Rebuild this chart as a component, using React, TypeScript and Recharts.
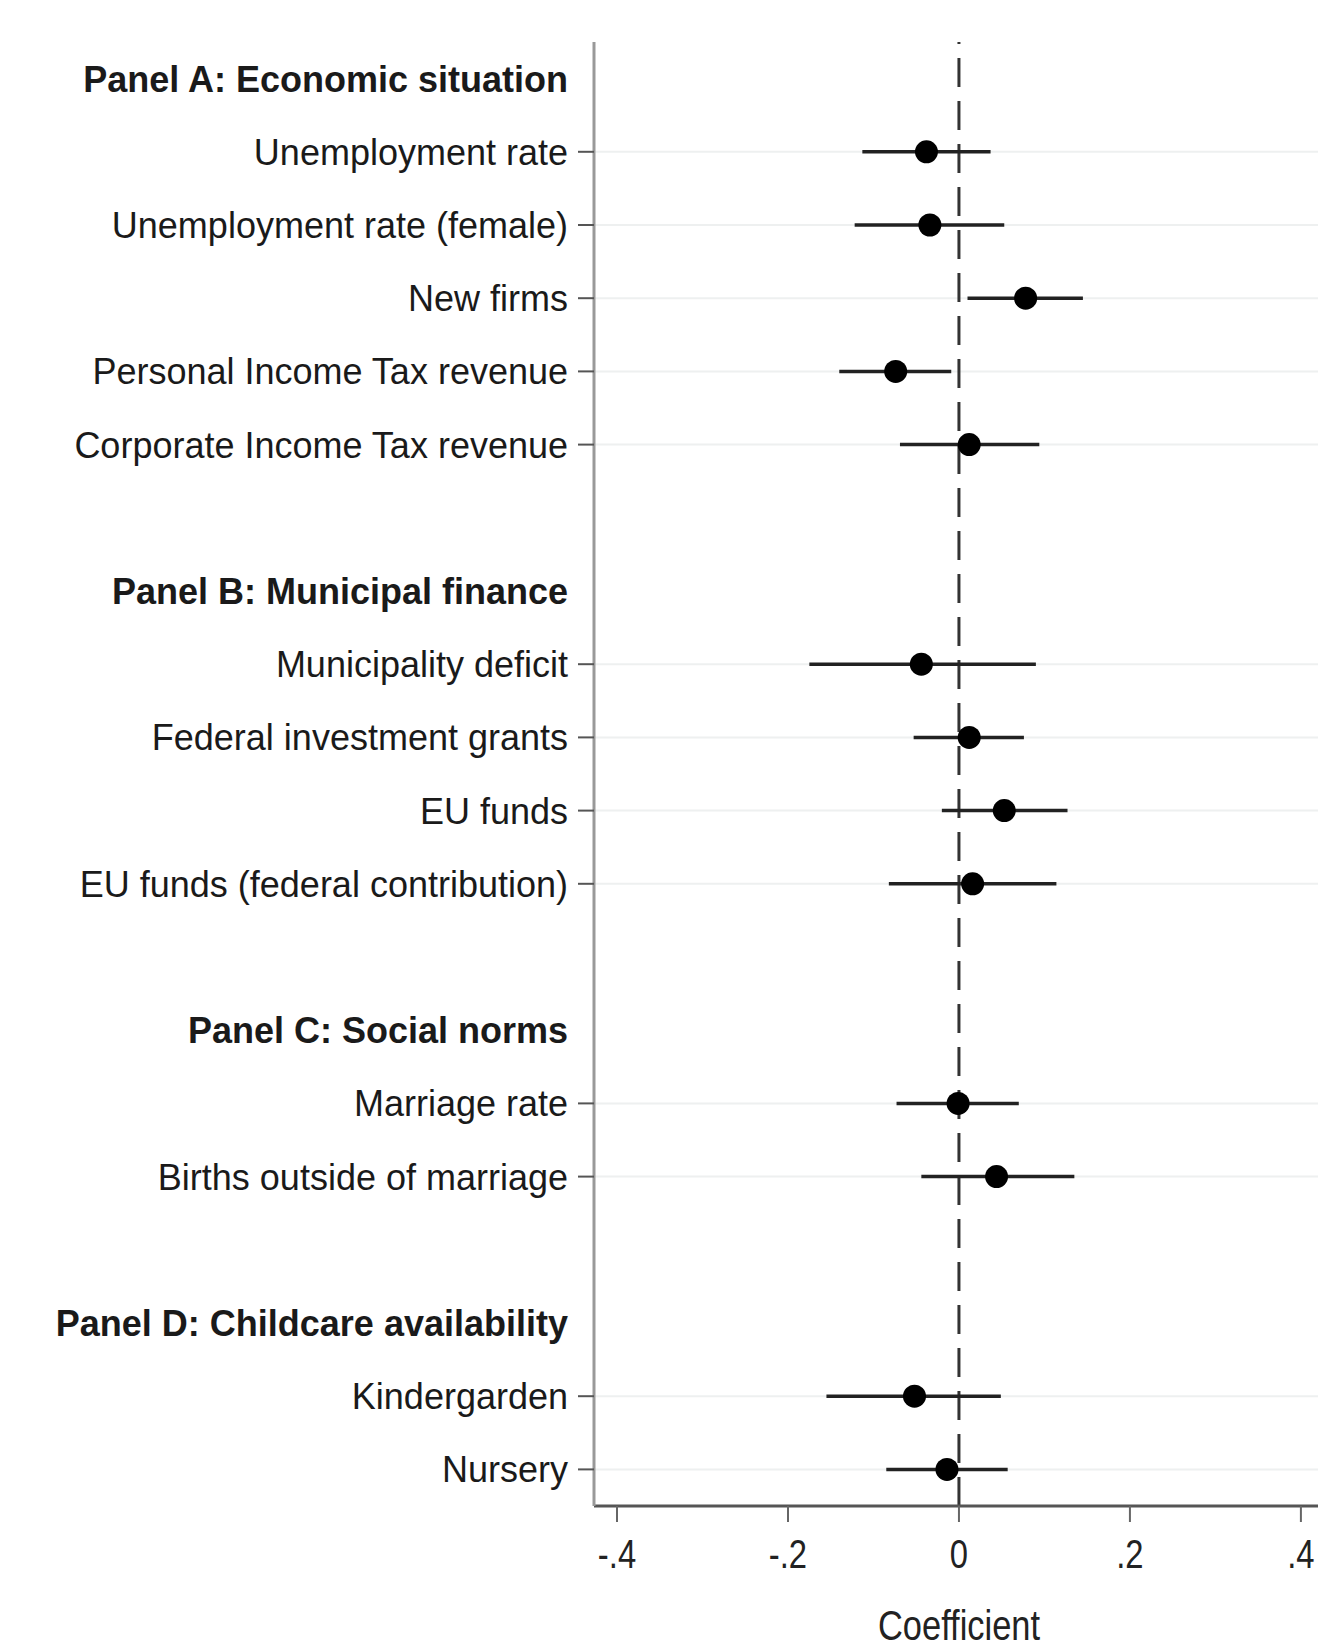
import React from "react";
import {
  ScatterChart,
  Scatter,
  XAxis,
  YAxis,
  ErrorBar,
  ReferenceLine,
} from "recharts";

// panels and their outcomes, top to bottom
const panelTitles = [
  "Panel A: Economic situation",
  "Panel B: Municipal finance",
  "Panel C: Social norms",
  "Panel D: Childcare availability",
];

const panelItems = [
  [
    "Unemployment rate",
    "Unemployment rate (female)",
    "New firms",
    "Personal Income Tax revenue",
    "Corporate Income Tax revenue",
  ],
  [
    "Municipality deficit",
    "Federal investment grants",
    "EU funds",
    "EU funds (federal contribution)",
  ],
  ["Marriage rate", "Births outside of marriage"],
  ["Kindergarden", "Nursery"],
];

// point estimates and 95% CI bounds, same order as the items above
const coefs = [
  -0.038, -0.034, 0.078, -0.074, 0.012,
  -0.044, 0.012, 0.053, 0.016,
  -0.001, 0.044,
  -0.052, -0.014,
];
const ciLow = [
  -0.113, -0.122, 0.01, -0.14, -0.069,
  -0.175, -0.053, -0.02, -0.082,
  -0.073, -0.044,
  -0.155, -0.085,
];
const ciHigh = [
  0.037, 0.053, 0.145, -0.009, 0.094,
  0.09, 0.076, 0.127, 0.114,
  0.07, 0.135,
  0.049, 0.057,
];

const xTicks = [-0.4, -0.2, 0, 0.2, 0.4];
const xTickLabels = ["-.4", "-.2", "0", ".2", ".4"];

// lay out rows: header, items, one blank row between panels
type Row = { pos: number; text: string; header: boolean };
const rows: Row[] = [];
const points: { y: number; coef: number; err: [number, number]; label: string }[] = [];
{
  let pos = 0;
  let k = 0;
  panelTitles.forEach((title, p) => {
    rows.push({ pos, text: title, header: true });
    pos++;
    panelItems[p].forEach((label) => {
      rows.push({ pos, text: label, header: false });
      points.push({
        y: pos,
        coef: coefs[k],
        err: [coefs[k] - ciLow[k], ciHigh[k] - coefs[k]],
        label,
      });
      pos++;
      k++;
    });
    pos++;
  });
}
const itemRows = rows.filter((r) => !r.header).map((r) => r.pos);
const lastRow = rows[rows.length - 1].pos;

const FONT = "'Liberation Sans', Arial, sans-serif";
// no narrow face installed, so squeeze the regular one
const SQUEEZE = 0.82;

const TICK_SIZE = 16;
const TICK_MARGIN = 10;

function RowTick(props: any) {
  const { x, y, payload } = props;
  const row = rows.find((r) => r.pos === payload.value);
  if (!row) return null;
  if (row.header) {
    return (
      <text
        x={x}
        y={y}
        dy="0.36em"
        textAnchor="end"
        fontFamily={FONT}
        fontSize={36}
        fontWeight="bold"
        fill="#1a1a1a"
      >
        {row.text}
      </text>
    );
  }
  return (
    <g>
      <line
        x1={x + TICK_MARGIN}
        x2={x + TICK_MARGIN + TICK_SIZE}
        y1={y}
        y2={y}
        stroke="#555"
        strokeWidth={2}
      />
      <text
        x={x}
        y={y}
        dy="0.36em"
        textAnchor="end"
        fontFamily={FONT}
        fontSize={36}
        fill="#1a1a1a"
      >
        {row.text}
      </text>
    </g>
  );
}

function CoefTick(props: any) {
  const { x, y, payload } = props;
  const label = xTickLabels[xTicks.indexOf(payload.value)] ?? "";
  return (
    <text
      transform={`translate(${x},${y}) scale(${SQUEEZE},1)`}
      dy="0.72em"
      textAnchor="middle"
      fontFamily={FONT}
      fontSize={40}
      fill="#222"
    >
      {label}
    </text>
  );
}

function AxisTitle(props: any) {
  const { viewBox } = props;
  const cx = viewBox.x + viewBox.width / 2 + 3;
  const by = viewBox.y + viewBox.height - 9;
  return (
    <text
      transform={`translate(${cx},${by}) scale(${SQUEEZE},1)`}
      textAnchor="middle"
      fontFamily={FONT}
      fontSize={42}
      fill="#222"
    >
      Coefficient
    </text>
  );
}

export default function App() {
  return (
    <div style={{ width: 1318, height: 1649, background: "#fff" }}>
      <style>{`body { margin: 0; }`}</style>
      <ScatterChart
        width={1318}
        height={1649}
        margin={{ top: 42, right: 0, left: 0, bottom: 0 }}
      >
        <XAxis
          type="number"
          dataKey="coef"
          domain={[-0.4269, 0.42]}
          allowDataOverflow
          ticks={xTicks}
          height={143}
          tickSize={16}
          tickMargin={17}
          axisLine={{ stroke: "#555", strokeWidth: 3 }}
          tickLine={{ stroke: "#666", strokeWidth: 2 }}
          tick={<CoefTick />}
          interval={0}
          label={<AxisTitle />}
        />
        <YAxis
          type="number"
          dataKey="y"
          domain={[-0.5, lastRow + 0.5]}
          reversed
          ticks={rows.map((r) => r.pos)}
          interval={0}
          width={594}
          tickLine={false}
          tickSize={TICK_SIZE}
          tickMargin={TICK_MARGIN}
          axisLine={{ stroke: "#999", strokeWidth: 3 }}
          tick={<RowTick />}
        />
        {itemRows.map((r) => (
          <ReferenceLine key={r} y={r} stroke="#eef0f0" strokeWidth={2} />
        ))}
        <ReferenceLine
          x={0}
          stroke="#333"
          strokeWidth={3}
          strokeDasharray="29 14"
        />
        <Scatter
          data={points}
          fill="#000"
          isAnimationActive={false}
          shape={(p: any) => <circle cx={p.cx} cy={p.cy} r={11.5} fill="#000" />}
        >
          <ErrorBar
            dataKey="err"
            direction="x"
            width={0}
            stroke="#222"
            strokeWidth={3.5}
          />
        </Scatter>
      </ScatterChart>
    </div>
  );
}
